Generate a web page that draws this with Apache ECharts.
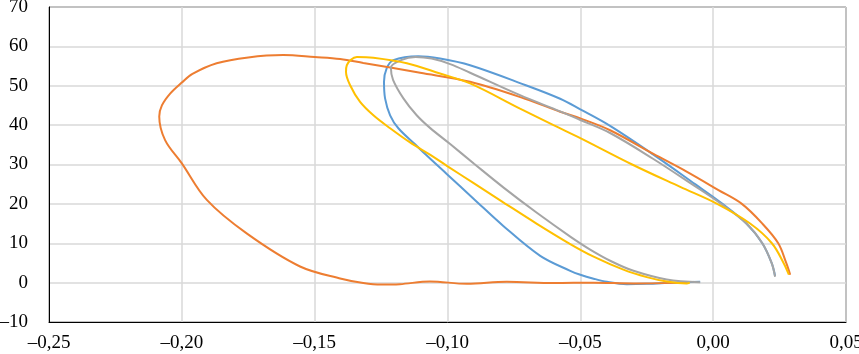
<!DOCTYPE html>
<html>
<head>
<meta charset="utf-8">
<script src="https://cdn.jsdelivr.net/npm/echarts@6/dist/echarts.min.js"></script>
<style>
html,body{margin:0;padding:0;background:#fff;}
#chart{width:859px;height:354px;}
</style>
</head>
<body>
<div id="chart"></div>
<script>
// axis ticks
var xTicks=[-0.25,-0.20,-0.15,-0.10,-0.05,0.00,0.05];
var yTicks=[-10,0,10,20,30,40,50,60,70];

// curves, each one walked in drawing order
var blueX=[0.0233,0.0220,0.0185,0.0125,0.0035,-0.0068,-0.0225,-0.0388,-0.0500,-0.0576,-0.0708,-0.0915,-0.1028,-0.1110,-0.1204,-0.1229,-0.1239,-0.1235,-0.1216,-0.1185,-0.1120,-0.1080,-0.1003,-0.0900,-0.0790,-0.0651,-0.0538,-0.0500,-0.0450,-0.0400,-0.0325,-0.0250,-0.0150,-0.0049];
var blueY=[1.7,5,10,15,20,25.0,32.5,39.8,44.0,46.7,50.2,55.2,56.9,57.5,56.5,54.4,51.0,46.8,42.5,39.2,35.0,32.4,27.6,21.2,14.4,6.8,3.0,2.0,1.0,0.2,-0.4,-0.3,0,0.2];

var orangeX=[0.0290,0.0275,0.0245,0.0185,0.0108,0.0020,-0.0100,-0.0225,-0.0388,-0.0500,-0.0576,-0.0708,-0.0915,-0.1103,-0.1317,-0.1404,-0.1500,-0.1618,-0.1750,-0.1869,-0.1960,-0.2000,-0.2044,-0.2075,-0.2085,-0.2063,-0.2000,-0.1906,-0.1756,-0.1555,-0.1400,-0.1317,-0.1250,-0.1180,-0.1066,-0.0927,-0.0777,-0.0600,-0.0450,-0.0300,-0.0100];
var orangeY=[2,5,10,15,20,23.5,28.2,32.7,38.7,41.7,43.4,46.7,51.0,53.3,55.8,56.8,57.3,57.8,57.2,55.7,53,50.8,48,45,42.2,36.2,30.3,21,12.5,4.1,1.0,-0.1,-0.5,-0.4,0.3,-0.3,0.2,-0.1,0,-0.2,0];

var grayX=[0.0233,0.0220,0.0185,0.0125,0.0030,-0.0080,-0.0225,-0.0388,-0.0500,-0.0576,-0.0727,-0.0915,-0.0990,-0.1060,-0.1120,-0.1175,-0.1213,-0.1205,-0.1166,-0.1116,-0.1066,-0.0990,-0.0900,-0.0790,-0.0665,-0.0538,-0.0463,-0.0380,-0.0300,-0.0175,-0.0049];
var grayY=[1.5,5,10,15,20,25,31.4,38.0,41.3,43.5,47.6,53.3,55.5,56.9,57.3,56.5,54.6,51.5,46.8,42.5,39.3,35.2,30.2,24.2,17.8,11.7,8.4,5.3,3.0,0.8,0.1];

var yellowX=[0.0285,0.0265,0.0221,0.0139,0.0015,-0.0124,-0.0305,-0.0500,-0.0601,-0.0727,-0.0915,-0.1028,-0.1153,-0.1279,-0.1341,-0.1379,-0.1382,-0.1367,-0.1329,-0.1279,-0.1216,-0.1141,-0.1066,-0.1001,-0.0900,-0.0790,-0.0665,-0.0538,-0.0450,-0.0338,-0.0250,-0.0175,-0.0100,-0.0088];
var yellowY=[2,5,10,15,20,24.3,30,36.7,40,44.2,50.6,53.1,55.7,57.1,57.3,55.2,53.5,50.2,45.9,42.5,39.2,35.6,32.5,29.6,25.2,20.4,15.0,9.8,6.6,3.3,1.4,0.3,-0.2,0];

function pairs(xs,ys){
	var out=[];
	for(var i=0;i<xs.length;i++){
		out.push([xs[i],ys[i]]);
	}
	return out;
}

function fmtX(v){
	return v.toFixed(2).replace('.',',').replace('-','\u2013');
}
function fmtY(v){
	return String(v).replace('-','\u2013');
}

function curve(name,color,xs,ys){
	return {
		name:name,
		type:'line',
		data:pairs(xs,ys),
		showSymbol:false,
		smooth:0.35,
		lineStyle:{color:color,width:2},
		itemStyle:{color:color},
		animation:false
	};
}

var chart=echarts.init(document.getElementById('chart'));
var labelFont={fontFamily:'Liberation Serif',fontSize:19,color:'#000'};

chart.setOption({
	backgroundColor:'#ffffff',
	animation:false,
	grid:{
		left:49,right:13,top:7,bottom:32,
		outerBoundsMode:'none',
		containLabel:false,
		show:true,borderColor:'#000',borderWidth:1
	},
	xAxis:{
		type:'value',
		min:xTicks[0],
		max:xTicks[xTicks.length-1],
		interval:0.05,
		axisLine:{show:true,onZero:false,lineStyle:{color:'#000',width:1}},
		axisTick:{show:false},
		splitLine:{show:true,lineStyle:{color:'#d9d9d9',width:1.5}},
		axisLabel:Object.assign({margin:12,formatter:fmtX,showMinLabel:true,showMaxLabel:true},labelFont)
	},
	yAxis:{
		type:'value',
		min:yTicks[0],
		max:yTicks[yTicks.length-1],
		interval:10,
		axisLine:{show:true,onZero:false,lineStyle:{color:'#000',width:1}},
		axisTick:{show:false},
		splitLine:{show:true,lineStyle:{color:'#d9d9d9',width:1.5}},
		axisLabel:Object.assign({margin:21,formatter:fmtY},labelFont)
	},
	series:[
		curve('blue','#5B9BD5',blueX,blueY),
		curve('orange','#ED7D31',orangeX,orangeY),
		curve('gray','#A5A5A5',grayX,grayY),
		curve('yellow','#FFC000',yellowX,yellowY)
	]
});
</script>
</body>
</html>
